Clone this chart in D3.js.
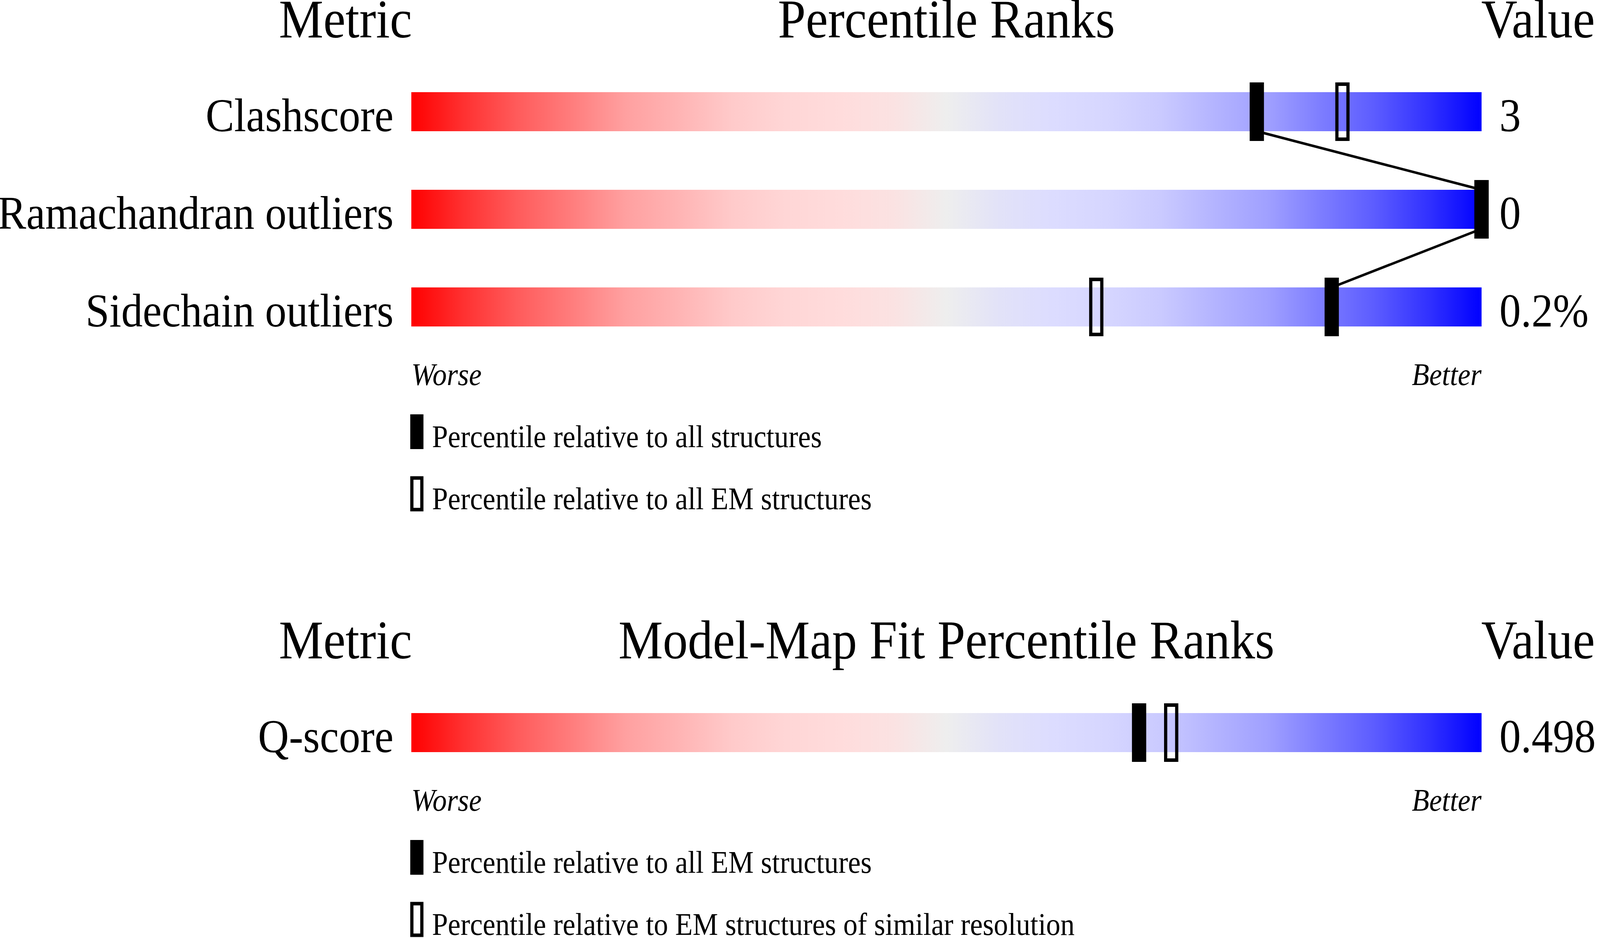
<!DOCTYPE html>
<html>
<head>
<meta charset="utf-8">
<script src="https://cdn.jsdelivr.net/npm/d3@7"></script>
<style>
  html, body { margin: 0; padding: 0; background: #fff; overflow: hidden; }
  svg { display: block; }
  text { font-family: "Liberation Serif", "Times New Roman", serif; fill: #000; }
</style>
</head>
<body>
<script>
// ---- Data ----
const geomMetrics = ["Clashscore", "Ramachandran outliers", "Sidechain outliers"];
const geomValues = ["3", "0", "0.2%"];
const geomPctAll = [79, 100, 86];      // filled markers: percentile relative to all structures
const geomPctEM = [87, 100, 64];       // hollow markers: percentile relative to all EM structures
const geomLegend = ["Percentile relative to all structures", "Percentile relative to all EM structures"];

const fitMetrics = ["Q-score"];
const fitValues = ["0.498"];
const fitPctAll = [68];                // filled markers
const fitPctRes = [71];                // hollow markers
const fitLegend = ["Percentile relative to all EM structures", "Percentile relative to EM structures of similar resolution"];

const titles = ["Percentile Ranks", "Model-Map Fit Percentile Ranks"];

// ---- Layout (designed in a 4485 x 2402 coordinate space, fitted to the viewport) ----
const W = 4485, H = 2402;
const vw = window.innerWidth || W, vh = window.innerHeight || H;
const svg = d3.select("body").append("svg")
  .attr("width", vw).attr("height", vh)
  .attr("viewBox", `0 0 ${W} ${H}`)
  .attr("preserveAspectRatio", "none");

const x = d3.scaleLinear().domain([0, 100]).range([1153, 4153]);

// gradient (red = worse, blue = better)
const gradStops = [
  [0, "#ff0000"], [0.05, "#ff3232"], [0.10, "#ff5c5c"], [0.15, "#ff7d7d"],
  [0.20, "#ffa0a0"], [0.25, "#ffb4b4"], [0.30, "#ffcaca"], [0.35, "#ffd6d6"],
  [0.40, "#ffdcdc"], [0.45, "#fbe2e2"], [0.50, "#eeeeee"], [0.55, "#e2e2f8"],
  [0.60, "#dcdcff"], [0.65, "#d6d6ff"], [0.70, "#cacaff"], [0.75, "#b4b4ff"],
  [0.80, "#a0a0ff"], [0.85, "#7d7dff"], [0.90, "#5c5cff"], [0.95, "#3232ff"],
  [1.00, "#0000ff"]
];
const defs = svg.append("defs");
const grad = defs.append("linearGradient").attr("id", "rb")
  .attr("x1", "0%").attr("x2", "100%").attr("y1", "0%").attr("y2", "0%");
grad.selectAll("stop").data(gradStops).join("stop")
  .attr("offset", d => d[0]).attr("stop-color", d => d[1]);

const FS_HEAD = 140, FS_LABEL = 120, FS_SMALL = 80;
const MK_W = 40, MK_EXT = 25, MK_SW = 9;
const ROW_STEP = 250;

function panel(cfg) {
  const g = svg.append("g");
  const n = cfg.metrics.length;
  const y = d3.scaleBand().domain(cfg.metrics)
    .range([cfg.top, cfg.top + n * ROW_STEP])
    .paddingInner(0.6).paddingOuter(0.3).align(0);
  const bw = y.bandwidth();
  const barBottom = y(cfg.metrics[n - 1]) + bw;

  // headers
  const hy = cfg.top - 140;
  g.append("text").attr("x", x(0) + 2).attr("y", hy).attr("text-anchor", "end").attr("font-size", FS_HEAD).text("Metric");
  g.append("text").attr("x", (x(0) + x(100)) / 2).attr("y", hy).attr("text-anchor", "middle").attr("font-size", FS_HEAD).text(cfg.title);
  g.append("text").attr("x", x(100) - 1).attr("y", hy).attr("text-anchor", "start").attr("font-size", FS_HEAD).text("Value");

  // gradient bars
  g.selectAll("rect.bar").data(cfg.metrics).join("rect").attr("class", "bar")
    .attr("x", x(0)).attr("width", x(100) - x(0))
    .attr("y", d => y(d)).attr("height", bw).attr("fill", "url(#rb)");

  // metric labels
  g.selectAll("text.lab").data(cfg.metrics).join("text").attr("class", "lab")
    .attr("x", x(0) - 50).attr("y", d => y(d) + bw).attr("text-anchor", "end")
    .attr("font-size", FS_LABEL).text(d => d);

  // values
  g.selectAll("text.val").data(cfg.values).join("text").attr("class", "val")
    .attr("x", x(100) + 50).attr("y", (d, i) => y(cfg.metrics[i]) + bw)
    .attr("text-anchor", "start").attr("font-size", FS_LABEL).text(d => d);

  // connecting line between filled markers
  if (n > 1) {
    const segs = [];
    for (let i = 0; i < n - 1; i++) {
      segs.push([x(cfg.filled[i]), y(cfg.metrics[i]) + bw, x(cfg.filled[i + 1]), y(cfg.metrics[i + 1])]);
    }
    g.selectAll("line.conn").data(segs).join("line").attr("class", "conn")
      .attr("x1", d => d[0]).attr("y1", d => d[1]).attr("x2", d => d[2]).attr("y2", d => d[3])
      .attr("stroke", "#000").attr("stroke-width", 6.5);
  }

  // hollow markers
  g.selectAll("rect.hol").data(cfg.hollow).join("rect").attr("class", "hol")
    .attr("x", d => x(d) - MK_W / 2 + MK_SW / 2).attr("width", MK_W - MK_SW)
    .attr("y", (d, i) => y(cfg.metrics[i]) - MK_EXT + MK_SW / 2)
    .attr("height", bw + 2 * MK_EXT - MK_SW)
    .attr("fill", "none").attr("stroke", "#000").attr("stroke-width", MK_SW);

  // filled markers
  g.selectAll("rect.fil").data(cfg.filled).join("rect").attr("class", "fil")
    .attr("x", d => x(d) - MK_W / 2).attr("width", MK_W)
    .attr("y", (d, i) => y(cfg.metrics[i]) - MK_EXT)
    .attr("height", bw + 2 * MK_EXT).attr("fill", "#000");

  // Worse / Better
  g.append("text").attr("x", x(0)).attr("y", barBottom + 150).attr("font-style", "italic")
    .attr("font-size", FS_SMALL).attr("text-anchor", "start").text("Worse");
  g.append("text").attr("x", x(100)).attr("y", barBottom + 150).attr("font-style", "italic")
    .attr("font-size", FS_SMALL).attr("text-anchor", "end").text("Better");

  // legend
  const ly = [barBottom + 225, barBottom + 384];
  g.append("rect").attr("x", x(0) - 3).attr("y", ly[0]).attr("width", 37).attr("height", 89).attr("fill", "#000");
  g.append("rect").attr("x", x(0) - 3 + 4.5).attr("y", ly[1] + 4).attr("width", 37 - 9).attr("height", 89 - 8)
    .attr("fill", "none").attr("stroke", "#000").attr("stroke-width", 9);
  g.selectAll("text.leg").data(cfg.legend).join("text").attr("class", "leg")
    .attr("x", x(0) + 58).attr("y", (d, i) => ly[i] + 84)
    .attr("font-size", FS_SMALL).text(d => d);
}

panel({ top: 236, metrics: geomMetrics, values: geomValues, filled: geomPctAll, hollow: geomPctEM, legend: geomLegend, title: titles[0] });
panel({ top: 1826, metrics: fitMetrics, values: fitValues, filled: fitPctAll, hollow: fitPctRes, legend: fitLegend, title: titles[1] });
</script>
</body>
</html>
